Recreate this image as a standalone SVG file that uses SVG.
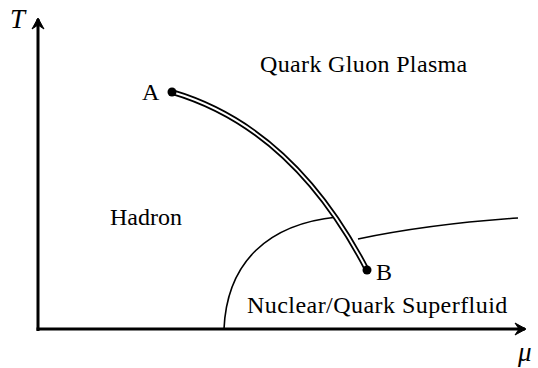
<svg xmlns="http://www.w3.org/2000/svg" width="538" height="368" viewBox="0 0 538 368">
<style>
.lbl{font-family:"Liberation Serif","Times New Roman",serif;font-size:24px;fill:#000}
.it{font-style:italic;font-size:27px}
.axis{stroke:#000;stroke-width:3;fill:none}
.curve{stroke:#000;stroke-width:1.6;fill:none}
</style>
<defs>
<marker id="arr" markerUnits="userSpaceOnUse" viewBox="-12 -7 14 14" refX="0" refY="0" markerWidth="14" markerHeight="14" orient="auto">
<path d="M1,0 L-10,-6 L-6,0 L-10,6 Z" fill="#000" stroke="#000" stroke-width="1" stroke-linejoin="miter"/>
</marker>
</defs>
<rect width="538" height="368" fill="#fff"/>
<g id="connectors">
<line class="axis" x1="38" y1="331" x2="38" y2="19" marker-end="url(#arr)"/>
<line class="axis" x1="36.5" y1="329" x2="525" y2="329" marker-end="url(#arr)"/>
<path class="curve" d="M224,329 C227,262 268,224 337,217"/>
<path class="curve" d="M358,239 Q430,224 518,218"/>
<path d="M172,92 C240,112 310,160 367,270" stroke="#000" stroke-width="5.5" fill="none"/>
<path d="M172,92 C240,112 310,160 367,270" stroke="#fff" stroke-width="2" fill="none"/>
</g>
<g id="pointA"><circle cx="172" cy="92" r="4.5" fill="#000"/><text class="lbl" x="142" y="100">A</text></g>
<g id="pointB"><circle cx="367" cy="270" r="4.5" fill="#000"/><text class="lbl" x="376" y="280">B</text></g>
<g id="qgp"><text class="lbl" x="260" y="72" letter-spacing="0.35">Quark Gluon Plasma</text></g>
<g id="hadron"><text class="lbl" x="110" y="225">Hadron</text></g>
<g id="superfluid"><text class="lbl" x="247" y="313" letter-spacing="0.45">Nuclear/Quark Superfluid</text></g>
<g id="axisT"><text class="lbl it" x="10" y="28">T</text></g>
<g id="axisMu"><text class="lbl it" x="518" y="361">μ</text></g>
</svg>
